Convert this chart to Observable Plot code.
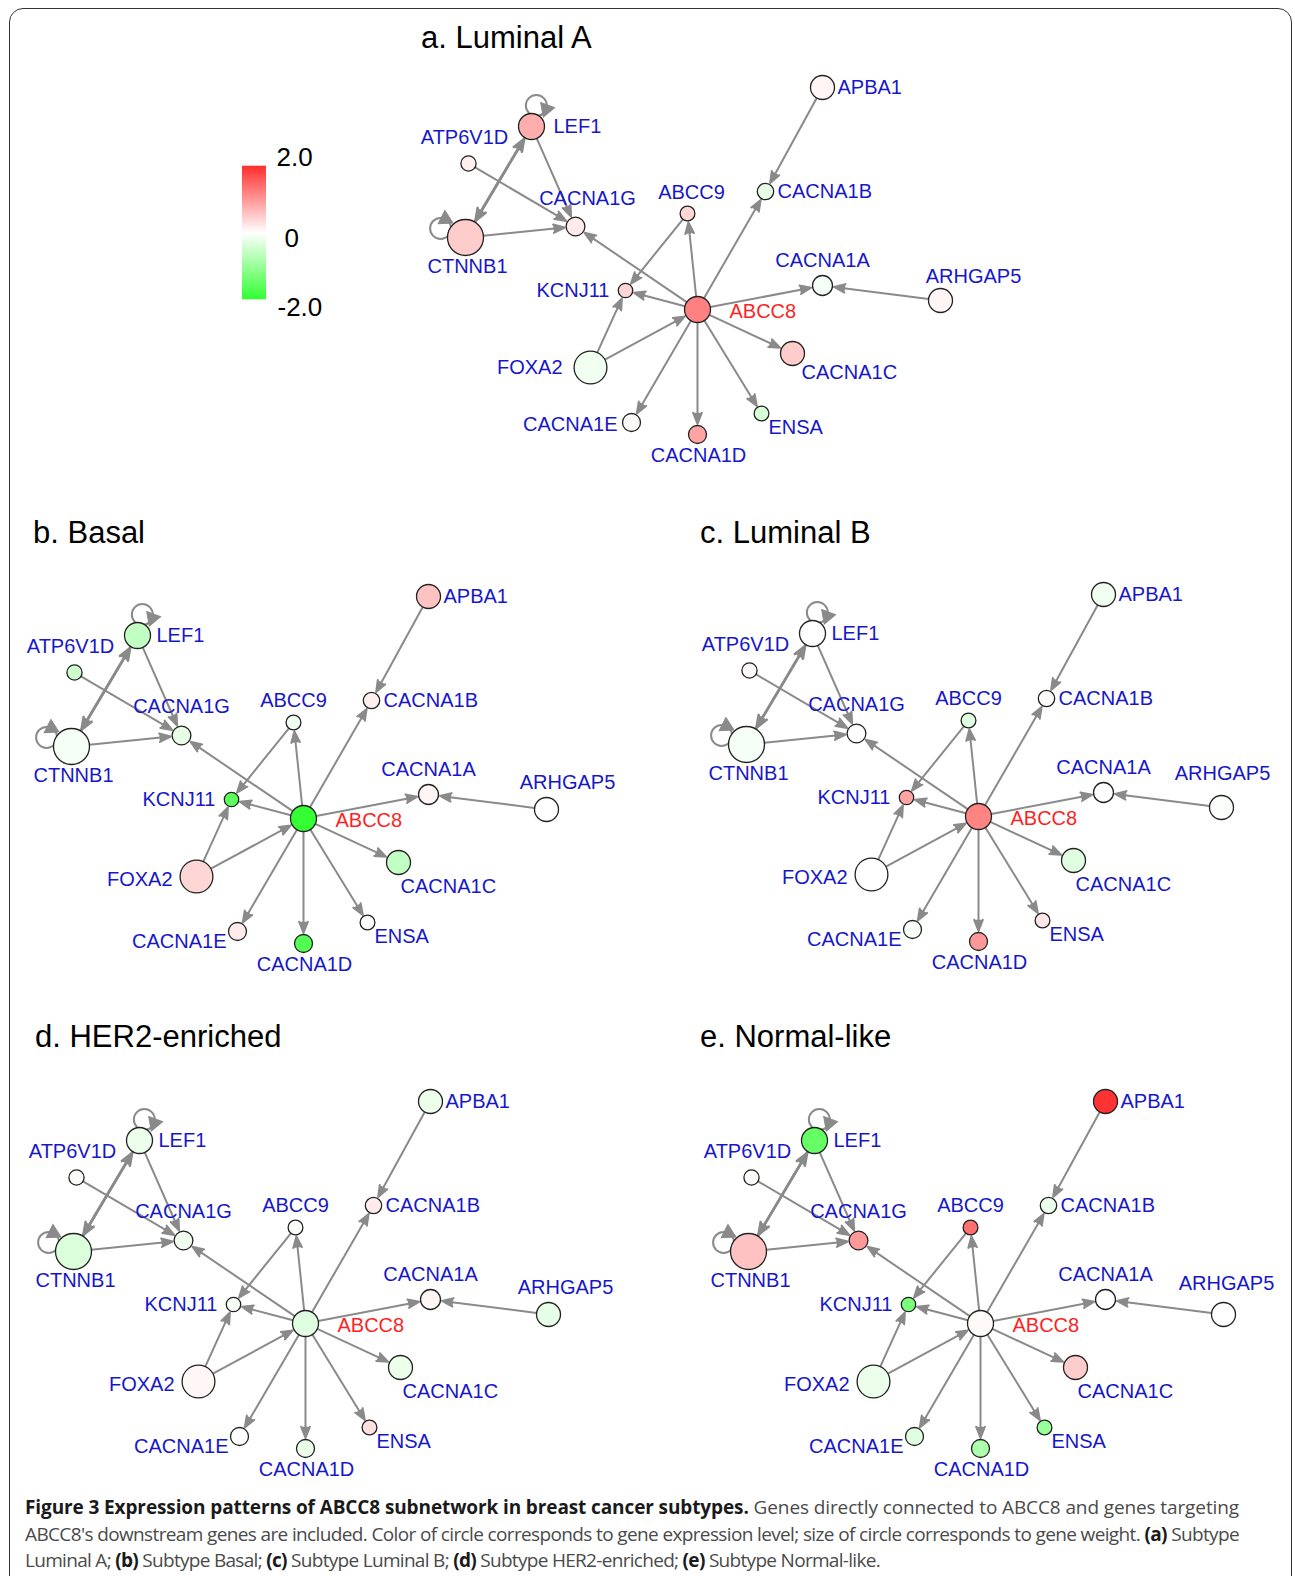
<!DOCTYPE html>
<html>
<head>
<meta charset="utf-8">
<script src="https://cdn.jsdelivr.net/npm/d3@7"></script>
<script src="https://cdn.jsdelivr.net/npm/@observablehq/plot@0.6"></script>
<style>
  html, body { margin: 0; padding: 0; background: #fff; }
  #fig { position: relative; width: 1295px; height: 1576px; overflow: hidden; background: #fff; }
  .frame { position: absolute; left: 9px; top: 8px; width: 1281px; height: 1620px; border: 1.6px solid #333; border-radius: 14px; }
  .ptitle { position: absolute; font-family: "Liberation Sans", Arial, sans-serif; font-size: 31px; line-height: 31px; color: #000; white-space: nowrap; }
  .panel { position: absolute; }
  .panel svg { max-width: none !important; }
  .caption { position: absolute; left: 25px; top: 1494px; font-family: "Open Sans", sans-serif; font-size: 19px; line-height: 26.5px; color: #4a4a4a; }
  .caption .line { display: block; white-space: nowrap; width: max-content; }
  .caption b { color: #1a1a1a; font-weight: 700; }
</style>
</head>
<body>
<div id="fig">
  <div class="frame"></div>
</div>
<script>
// ---------------- data ----------------
const genes = ["ABCC8","LEF1","ATP6V1D","CTNNB1","CACNA1G","ABCC9","CACNA1B","APBA1","CACNA1A","ARHGAP5","KCNJ11","FOXA2","CACNA1C","CACNA1E","CACNA1D","ENSA"];
// network layout coordinates (ABCC8 at origin)
const layoutX = [0, -166, -229, -232, -122, -10, 68, 125, 125, 243, -72, -107, 95, -66, 0, 64];
const layoutY = [0, -183, -146, -72, -83, -96, -118, -222, -24, -9, -19, 58, 44, 113, 125, 104];
// gene weight (circle size)
const geneWeight = [0.65, 0.65, 0.38, 0.9, 0.47, 0.37, 0.41, 0.6, 0.5, 0.6, 0.36, 0.82, 0.6, 0.45, 0.45, 0.37];

// directed edges
const edgeSource = ["ABCC8","ABCC8","ABCC8","ABCC8","ABCC8","ABCC8","ABCC8","ABCC8","ABCC8","FOXA2","FOXA2","ABCC9","APBA1","ARHGAP5","LEF1","ATP6V1D","CTNNB1","LEF1","CTNNB1"];
const edgeTarget = ["CACNA1G","ABCC9","CACNA1B","CACNA1A","KCNJ11","CACNA1C","ENSA","CACNA1D","CACNA1E","ABCC8","KCNJ11","KCNJ11","CACNA1B","CACNA1A","CACNA1G","CACNA1G","CACNA1G","CTNNB1","LEF1"];
const selfLoops = ["LEF1","CTNNB1"];

// expression level per subtype (same gene order)
const exprLuminalA = [1.25, 0.8, 0.15, 0.5, 0.2, 0.4, -0.25, 0.1, -0.1, 0.1, 0.4, -0.15, 0.5, 0.05, 0.9, -0.4];
const exprBasal    = [-2.0, -0.6, -0.5, -0.1, -0.25, -0.15, 0.15, 0.6, 0.1, 0.0, -1.6, 0.4, -0.6, 0.2, -1.7, 0.05];
const exprLuminalB = [1.2, 0.0, 0.05, -0.1, 0.0, -0.3, 0.05, -0.15, 0.0, -0.05, 0.9, 0.0, -0.3, -0.05, 1.0, 0.25];
const exprHER2     = [-0.3, -0.2, 0.05, -0.35, -0.15, -0.05, 0.2, -0.2, 0.1, -0.25, -0.05, 0.08, -0.2, 0.0, -0.2, 0.3];
const exprNormal   = [0.05, -1.5, -0.05, 0.6, 1.0, 1.4, -0.2, 2.0, 0.0, 0.0, -1.3, -0.2, 0.5, -0.3, -0.8, -1.0];

const panelTitles = ["a. Luminal A", "b. Basal", "c. Luminal B", "d. HER2-enriched", "e. Normal-like"];
const panelKeys = ["a", "b", "c", "d", "e"];
const panelExpr = [exprLuminalA, exprBasal, exprLuminalB, exprHER2, exprNormal];

const legendTicks = [2, 0, -2];
const legendTickLabels = ["2.0", "0", "-2.0"];

const captionLines = [
  "<b>Figure 3 Expression patterns of ABCC8 subnetwork in breast cancer subtypes.</b> Genes directly connected to ABCC8 and genes targeting",
  "ABCC8's downstream genes are included. Color of circle corresponds to gene expression level; size of circle corresponds to gene weight. <b>(a)</b> Subtype",
  "Luminal A; <b>(b)</b> Subtype Basal; <b>(c)</b> Subtype Luminal B; <b>(d)</b> Subtype HER2-enriched; <b>(e)</b> Subtype Normal-like."
];
const captionLineWidths = [1214, 1214, 855];

// ---------------- styles / layout ----------------
const FONT = "Liberation Sans, Arial, Helvetica, sans-serif";
const EDGE = "#8a8a8a";
const LABEL = "#1717c9";
const colorScale = {type: "linear", domain: [-2, 0, 2], range: ["#33ff33", "#ffffff", "#ff3333"], clamp: true};
const rRange = [0, 20];
const rpx = d3.scaleLinear().domain([0, 1]).range(rRange);

// panel placement on page (left/top of each plot) and plot extent
const PW = 640, PH = 440, X0 = -300, Y0 = -260;
const panelPos = {a: [397, 49], b: [3, 558], c: [678, 556], d: [5, 1063], e: [680, 1063]};
const titlePos = {a: [421, 22], b: [33, 517], c: [700, 517], d: [35, 1021], e: [700, 1021]};

// label placement: [anchor, dx, dy]
const labelPos = {
  ABCC8: ["start", 32, 2], LEF1: ["start", 19, 0], ATP6V1D: ["middle", -4, -26], CTNNB1: ["middle", 2, 29],
  CACNA1G: ["middle", 0, -29], ABCC9: ["middle", 0, -22], CACNA1B: ["start", 12, 0], APBA1: ["start", 15, 0],
  CACNA1A: ["middle", 0, -25], ARHGAP5: ["middle", 20, -25], KCNJ11: ["end", -16, 0], FOXA2: ["end", -24, 3],
  CACNA1C: ["start", 2, 24], CACNA1E: ["end", -11, 10], CACNA1D: ["middle", 1, 21], ENSA: ["start", 7, 14]
};
const labelOverride = {
  a: {CACNA1G: ["middle", 12, -28], ARHGAP5: ["middle", 33, -24], LEF1: ["start", 22, 0], FOXA2: ["end", -28, 0], CACNA1C: ["start", 9, 19], CACNA1E: ["end", -14, 2], ABCC9: ["middle", 4, -21]},
  b: {ARHGAP5: ["middle", 21, -27]},
  c: {ARHGAP5: ["middle", 1, -34]},
  d: {ARHGAP5: ["middle", 17, -27]},
  e: {ARHGAP5: ["middle", 3, -31]}
};
const loopSide = {LEF1: -77, CTNNB1: 200};

const fig = document.getElementById("fig");

function makePanel(k, expr) {
  const nodes = genes.map((g, i) => ({gene: g, x: layoutX[i], y: layoutY[i], w: geneWeight[i], v: expr[i]}));
  const byGene = new Map(nodes.map(n => [n.gene, n]));
  const edges = edgeSource.map((s, i) => ({s: byGene.get(s), t: byGene.get(edgeTarget[i])}));
  const loops = selfLoops.map(g => {
    const n = byGene.get(g);
    const a = loopSide[g] * Math.PI / 180;
    const d = rpx(n.w) + 8.5;
    const cx = n.x + d * Math.cos(a), cy = n.y + d * Math.sin(a);
    const ha = a + 97 * Math.PI / 180;
    const hx = cx + 10.5 * Math.cos(ha), hy = cy + 10.5 * Math.sin(ha);
    return {cx, cy, hx, hy, rot: ha * 180 / Math.PI + 180};
  });

  const marks = [];
  for (const e of edges) {
    const pair = (e.s.gene === "LEF1" && e.t.gene === "CTNNB1") || (e.s.gene === "CTNNB1" && e.t.gene === "LEF1");
    marks.push(Plot.arrow([e], {
      x1: d => d.s.x, y1: d => d.s.y, x2: d => d.t.x, y2: d => d.t.y,
      insetStart: rpx(e.s.w), insetEnd: rpx(e.t.w) + 1.5,
      stroke: EDGE, fill: EDGE, strokeWidth: pair ? 2.6 : 2, headLength: pair ? 7.5 : 9, headAngle: 42
    }));
  }
  marks.push(Plot.dot(loops, {x: "cx", y: "cy", r: 10.5, fill: "none", stroke: EDGE, strokeWidth: 2}));
  marks.push(Plot.dot(loops, {x: "hx", y: "hy", r: 5.5, symbol: "triangle", rotate: "rot", fill: EDGE, stroke: EDGE, strokeWidth: 1}));
  marks.push(Plot.dot(nodes, {x: "x", y: "y", r: "w", fill: "v", stroke: "#222", strokeWidth: 1.3}));
  for (const n of nodes) {
    const [anchor, dx, dy] = (labelOverride[k] && labelOverride[k][n.gene]) || labelPos[n.gene];
    marks.push(Plot.text([n], {
      x: "x", y: "y", text: "gene", textAnchor: anchor, dx, dy,
      fill: n.gene === "ABCC8" ? "#ff1f1f" : LABEL, fontSize: 20, fontFamily: FONT
    }));
  }

  const plot = Plot.plot({
    width: PW, height: PH, margin: 0,
    x: {domain: [X0, X0 + PW], range: [0, PW], axis: null},
    y: {domain: [Y0, Y0 + PH], range: [0, PH], axis: null},
    r: {type: "linear", domain: [0, 1], range: rRange},
    color: colorScale,
    style: {background: "transparent", overflow: "visible", fontFamily: FONT, maxWidth: "none"},
    marks
  });
  const wrap = document.createElement("div");
  wrap.className = "panel";
  wrap.style.left = panelPos[k][0] + "px";
  wrap.style.top = panelPos[k][1] + "px";
  wrap.style.width = PW + "px";
  wrap.style.height = PH + "px";
  wrap.appendChild(plot);
  fig.appendChild(wrap);
}

panelKeys.forEach((k, i) => makePanel(k, panelExpr[i]));

panelKeys.forEach((k, i) => {
  const t = document.createElement("div");
  t.className = "ptitle";
  t.textContent = panelTitles[i];
  t.style.left = titlePos[k][0] + "px";
  t.style.top = titlePos[k][1] + "px";
  fig.appendChild(t);
});

// ---------------- colour legend ----------------
{
  const ramp = d3.range(-2, 2.0001, 0.02);
  const legend = Plot.plot({
    width: 120, height: 200, margin: 0,
    x: {domain: [0, 120], range: [0, 120], axis: null},
    y: {domain: [-2, 2], range: [158, 26], axis: null},
    color: colorScale,
    style: {background: "transparent", overflow: "visible", fontFamily: FONT, maxWidth: "none"},
    marks: [
      Plot.ruleY(ramp, {y: d => d, x1: 12, x2: 36, stroke: d => d, strokeWidth: 1.6}),
      Plot.text([legendTicks[0]], {x: 46, y: d => d, dy: -9, text: () => legendTickLabels[0], textAnchor: "start", fontSize: 26, fill: "#000"}),
      Plot.text([legendTicks[1]], {x: 54, y: d => d, dy: 6, text: () => legendTickLabels[1], textAnchor: "start", fontSize: 26, fill: "#000"}),
      Plot.text([legendTicks[2]], {x: 47, y: d => d, dy: 9, text: () => legendTickLabels[2], textAnchor: "start", fontSize: 26, fill: "#000"})
    ]
  });
  const w = document.createElement("div");
  w.className = "panel";
  w.style.left = "230px";
  w.style.top = "140px";
  w.style.width = "120px";
  w.style.height = "200px";
  w.appendChild(legend);
  fig.appendChild(w);
}

// ---------------- caption ----------------
{
  const c = document.createElement("div");
  c.className = "caption";
  const spans = captionLines.map(html => {
    const s = document.createElement("span");
    s.className = "line";
    s.innerHTML = html;
    c.appendChild(s);
    return s;
  });
  fig.appendChild(c);
  const fit = () => {
    spans.forEach((s, i) => {
      s.style.letterSpacing = "0px";
      const w = s.getBoundingClientRect().width;
      const n = s.textContent.length;
      s.style.letterSpacing = ((captionLineWidths[i] - w) / n) + "px";
    });
  };
  fit();
  if (document.fonts && document.fonts.ready) document.fonts.ready.then(fit);
}
</script>
</body>
</html>
